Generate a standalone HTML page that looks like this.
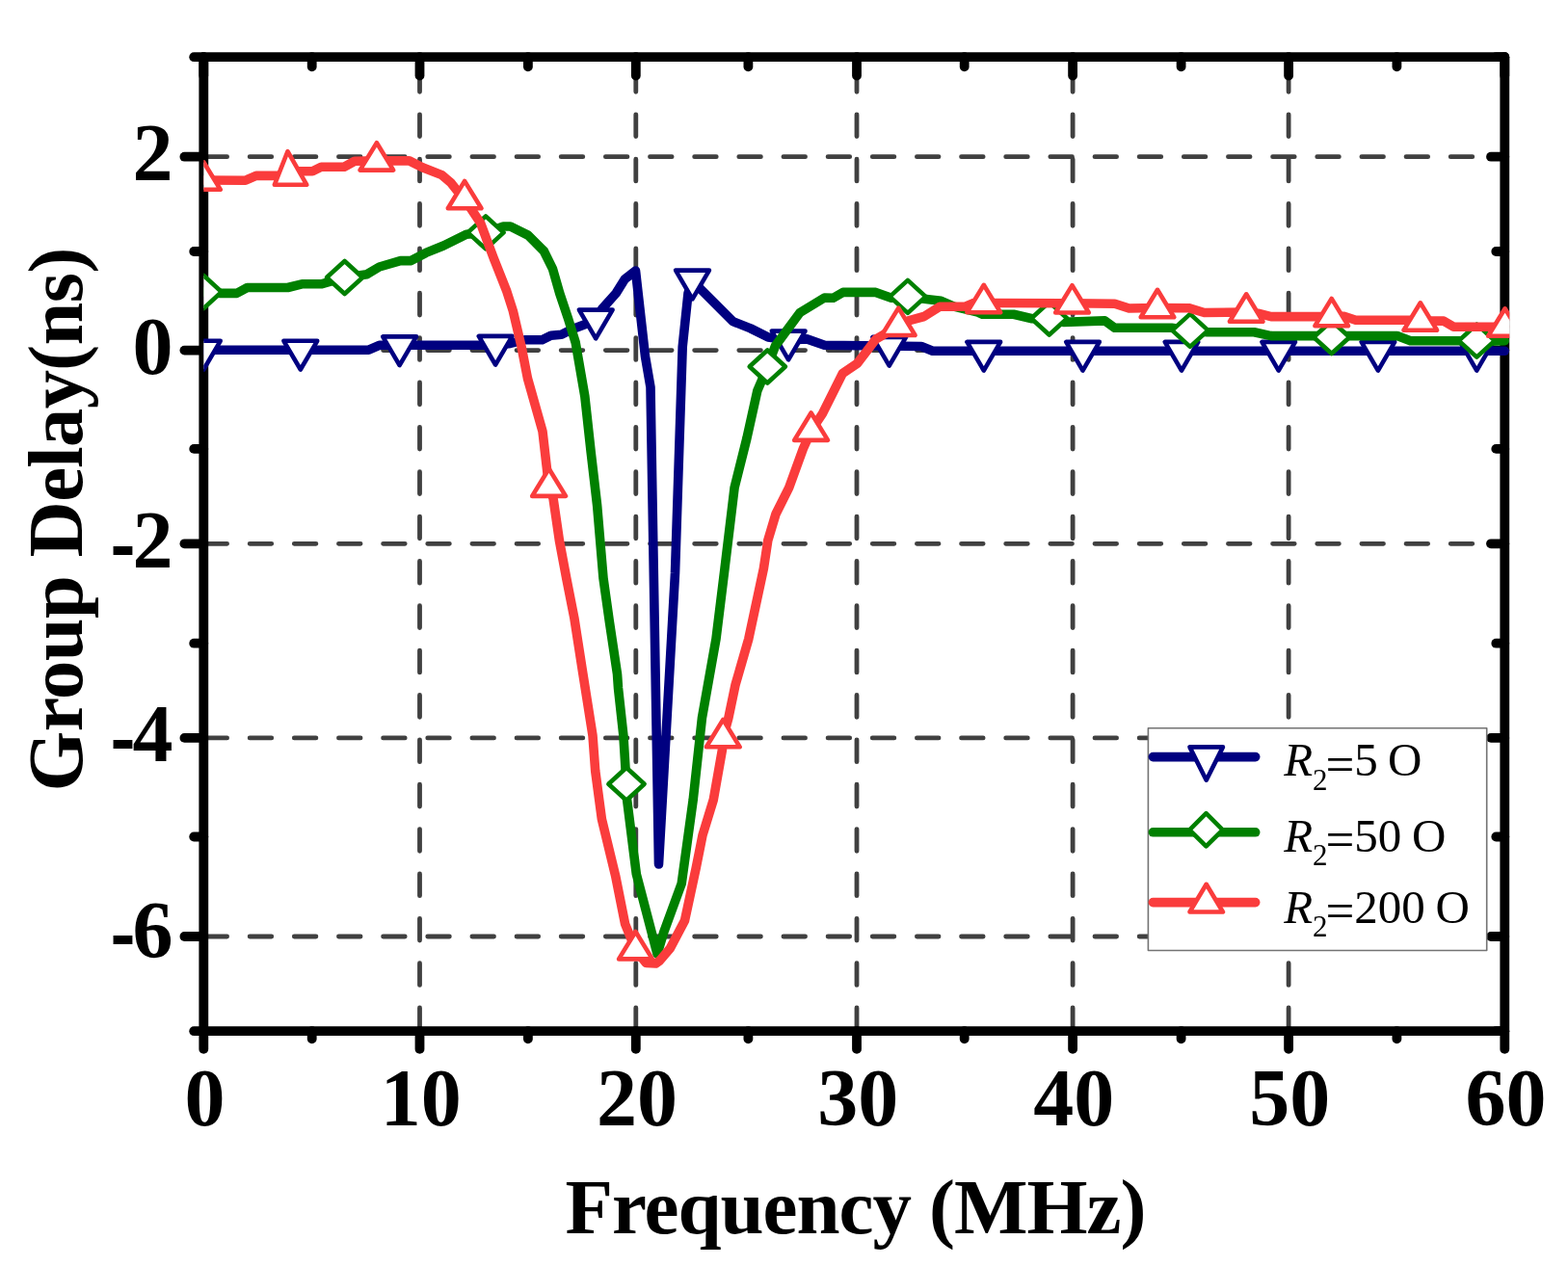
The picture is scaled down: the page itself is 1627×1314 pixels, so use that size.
<!DOCTYPE html>
<html><head><meta charset="utf-8"><title>Group Delay vs Frequency</title>
<style>html,body{margin:0;padding:0;background:#fff;}svg{display:block;}</style>
</head><body>
<svg width="1627" height="1314" viewBox="0 0 1627 1314"><rect width="1627" height="1314" fill="#fff"/><g stroke="#404040" stroke-width="4.8" stroke-linecap="round" stroke-dasharray="22.6 23.55" fill="none">
<line x1="213" y1="162.7" x2="1559.3" y2="162.7"/>
<line x1="213" y1="363.6" x2="1559.3" y2="363.6"/>
<line x1="213" y1="564.3" x2="1559.3" y2="564.3"/>
<line x1="213" y1="765.9" x2="1559.3" y2="765.9"/>
<line x1="213" y1="972" x2="1559.3" y2="972"/>
<line x1="435.5" y1="1068.8" x2="435.5" y2="59.2" stroke-dasharray="22.8 23.56"/>
<line x1="659.8" y1="1068.8" x2="659.8" y2="59.2" stroke-dasharray="22.8 23.56"/>
<line x1="889" y1="1068.8" x2="889" y2="59.2" stroke-dasharray="22.8 23.56"/>
<line x1="1113.1" y1="1068.8" x2="1113.1" y2="59.2" stroke-dasharray="22.8 23.56"/>
<line x1="1337.1" y1="1068.8" x2="1337.1" y2="59.2" stroke-dasharray="22.8 23.56"/>
</g>
<g stroke="#000" stroke-width="9.8" stroke-linecap="round" stroke-linejoin="round" fill="none">
<path d="M211.3,59.2H1561.3V1070.2H211.3Z"/>
<line x1="211.3" y1="59.2" x2="201.2" y2="59.2"/>
<line x1="1561.3" y1="59.2" x2="1552.3" y2="59.2"/>
<line x1="211.3" y1="162.7" x2="191.4" y2="162.7"/>
<line x1="1561.3" y1="162.7" x2="1547" y2="162.7"/>
<line x1="211.3" y1="261" x2="201.2" y2="261"/>
<line x1="1561.3" y1="261" x2="1552.3" y2="261"/>
<line x1="211.3" y1="363.6" x2="191.4" y2="363.6"/>
<line x1="1561.3" y1="363.6" x2="1547" y2="363.6"/>
<line x1="211.3" y1="465.9" x2="201.2" y2="465.9"/>
<line x1="1561.3" y1="465.9" x2="1552.3" y2="465.9"/>
<line x1="211.3" y1="564.3" x2="191.4" y2="564.3"/>
<line x1="1561.3" y1="564.3" x2="1547" y2="564.3"/>
<line x1="211.3" y1="667.7" x2="201.2" y2="667.7"/>
<line x1="1561.3" y1="667.7" x2="1552.3" y2="667.7"/>
<line x1="211.3" y1="765.9" x2="191.4" y2="765.9"/>
<line x1="1561.3" y1="765.9" x2="1547" y2="765.9"/>
<line x1="211.3" y1="868.5" x2="201.2" y2="868.5"/>
<line x1="1561.3" y1="868.5" x2="1552.3" y2="868.5"/>
<line x1="211.3" y1="972" x2="191.4" y2="972"/>
<line x1="1561.3" y1="972" x2="1547" y2="972"/>
<line x1="211.3" y1="1070.2" x2="201.2" y2="1070.2"/>
<line x1="1561.3" y1="1070.2" x2="1552.3" y2="1070.2"/>
<line x1="211.3" y1="1070.2" x2="211.3" y2="1088.9"/>
<line x1="211.3" y1="59.2" x2="211.3" y2="78.6"/>
<line x1="323.7" y1="1070.2" x2="323.7" y2="1078.3"/>
<line x1="323.7" y1="59.2" x2="323.7" y2="69.3"/>
<line x1="435.5" y1="1070.2" x2="435.5" y2="1088.9"/>
<line x1="435.5" y1="59.2" x2="435.5" y2="78.6"/>
<line x1="547.9" y1="1070.2" x2="547.9" y2="1078.3"/>
<line x1="547.9" y1="59.2" x2="547.9" y2="69.3"/>
<line x1="659.8" y1="1070.2" x2="659.8" y2="1088.9"/>
<line x1="659.8" y1="59.2" x2="659.8" y2="78.6"/>
<line x1="776.4" y1="1070.2" x2="776.4" y2="1078.3"/>
<line x1="776.4" y1="59.2" x2="776.4" y2="69.3"/>
<line x1="889" y1="1070.2" x2="889" y2="1088.9"/>
<line x1="889" y1="59.2" x2="889" y2="78.6"/>
<line x1="1000.7" y1="1070.2" x2="1000.7" y2="1078.3"/>
<line x1="1000.7" y1="59.2" x2="1000.7" y2="69.3"/>
<line x1="1113.1" y1="1070.2" x2="1113.1" y2="1088.9"/>
<line x1="1113.1" y1="59.2" x2="1113.1" y2="78.6"/>
<line x1="1225.6" y1="1070.2" x2="1225.6" y2="1078.3"/>
<line x1="1225.6" y1="59.2" x2="1225.6" y2="69.3"/>
<line x1="1337.1" y1="1070.2" x2="1337.1" y2="1088.9"/>
<line x1="1337.1" y1="59.2" x2="1337.1" y2="78.6"/>
<line x1="1449.4" y1="1070.2" x2="1449.4" y2="1078.3"/>
<line x1="1449.4" y1="59.2" x2="1449.4" y2="69.3"/>
<line x1="1561.3" y1="1070.2" x2="1561.3" y2="1088.9"/>
<line x1="1561.3" y1="59.2" x2="1561.3" y2="78.6"/>
</g>
<defs><clipPath id="pc"><rect x="211.3" y="40" width="1355" height="1050"/></clipPath></defs>
<g clip-path="url(#pc)" stroke-linejoin="round" stroke-linecap="round">
<polyline fill="none" stroke="#000080" stroke-width="9.6" points="211.3,363.2 382.6,363.2 393.6,358.3 514.1,358.3 529.6,356.4 544.2,352.8 562.5,352.8 571.6,348.2 582.6,347.3 593.5,341.8 608.1,336.3 618.2,331 624.6,320.8 639.2,304.4 648.3,289.8 659.5,281 669.5,370 675,402 683.5,897 700.5,595 708.2,360 714,304.4 718.5,290 725.8,298.9 760.5,333.6 778.8,340.9 797.1,350 818.1,353 837.3,351.9 855.5,358.3 955.9,359.5 967.7,364.3 1561.3,364.3"/>
<g fill="#fff" stroke="#000080" stroke-width="4.6">
<polygon points="194,353.8 228.7,353.8 211.3,383.5"/>
<polygon points="294.4,353.8 329.2,353.8 311.8,383.5"/>
<polygon points="397.2,349.4 432,349.4 414.6,379.1"/>
<polygon points="496.8,348.9 531.5,348.9 514.1,378.6"/>
<polygon points="600.9,321.6 635.6,321.6 618.2,351.3"/>
<polygon points="701.1,280.6 735.9,280.6 718.5,310.3"/>
<polygon points="800.8,343.6 835.5,343.6 818.1,373.3"/>
<polygon points="905.4,349.9 940.1,349.9 922.7,379.6"/>
<polygon points="1003.4,354.9 1038.1,354.9 1020.8,384.6"/>
<polygon points="1106.2,354.9 1140.8,354.9 1123.5,384.6"/>
<polygon points="1208.7,354.9 1243.3,354.9 1226,384.6"/>
<polygon points="1309.4,354.9 1344,354.9 1326.7,384.6"/>
<polygon points="1412.6,354.9 1447.2,354.9 1429.9,384.6"/>
<polygon points="1515,354.9 1549.6,354.9 1532.3,384.6"/>
</g>
<polyline fill="none" stroke="#008000" stroke-width="9.6" points="211.3,303 229,304.4 245.7,304.4 256.6,298.5 298.6,298.5 313.2,294.8 333.3,294.8 357.6,288 380.8,284.7 393.6,277 415.5,270.6 426.5,270.6 441.9,262.4 460.2,255 483.9,243.2 504,241.4 522.3,235 529.6,235 547.9,244.1 564.3,260.5 573.4,278.8 580.7,304.4 589.9,331.8 597.2,355.5 606.8,411.1 613.2,469.6 619.6,524.4 626,600 632.3,644.8 640.5,699.6 641.5,714.2 646.9,763.5 650,813.8 650.3,827.6 660.3,907.1 682,990 688.8,967.4 707.2,917.2 719.2,830 728.4,745.4 743,663.1 752,590 762.1,506.1 774.9,455 785.8,405.7 791.3,392.9 796.3,380.5 804.4,359.2 830,324.5 855.5,309 864.4,309.3 874.8,303.4 908.7,303.4 924.9,309.3 941.9,307.9 963.3,310.8 976.5,312.3 989.8,318.2 1014.9,324.1 1019.3,326.3 1051.8,326.3 1071,330.7 1088.7,330.5 1103.6,334.4 1146.4,332.9 1156.7,340.3 1215.7,340.3 1234.9,342.9 1252.6,344.7 1301.3,344.7 1318.9,348.6 1368.8,348.6 1381.7,350 1398,348.6 1449.7,348.6 1463.5,353.8 1513.4,353.8 1532.3,353.6 1546,354.2 1561.3,353.8"/>
<g fill="#fff" stroke="#008000" stroke-width="4.6">
<polygon points="211.3,286 229.9,303 211.3,320 192.7,303"/>
<polygon points="357.6,271 376.2,288 357.6,305 339,288"/>
<polygon points="504,224.4 522.6,241.4 504,258.4 485.4,241.4"/>
<polygon points="650,796.8 668.6,813.8 650,830.8 631.4,813.8"/>
<polygon points="796.3,363.5 814.9,380.5 796.3,397.5 777.7,380.5"/>
<polygon points="941.9,290.9 960.5,307.9 941.9,324.9 923.3,307.9"/>
<polygon points="1088.7,313.5 1107.3,330.5 1088.7,347.5 1070.1,330.5"/>
<polygon points="1234.9,325.9 1253.5,342.9 1234.9,359.9 1216.3,342.9"/>
<polygon points="1381.7,333 1400.3,350 1381.7,367 1363.1,350"/>
<polygon points="1532.3,336.6 1550.9,353.6 1532.3,370.6 1513.7,353.6"/>
</g>
<polyline fill="none" stroke="#fa3c3c" stroke-width="9.6" points="211.3,187 254.8,187.2 265.8,182.4 291,182.4 301,180 311,177.8 324.2,177.8 333.3,173.3 357.1,173.3 368,167.2 390.9,166.9 424.7,166.9 438.3,173.8 458.4,181.6 467.5,189.3 474.8,198.4 482.1,206.6 491.2,220.4 498.5,231.3 512.2,267.9 525.9,302.6 532.3,322.6 541.1,360 547.5,392.9 563,447.7 569.6,505.2 574,517 580.4,561 587.7,600 595.8,641.1 604.9,699.6 615,763.5 617.7,800 624.4,850.2 638.6,908.8 648.6,959 659.5,985.7 670.4,999.5 680.4,1000 684.6,997 695.5,984.1 710.5,955.6 722.3,900.4 729,866.9 740.3,830 749.4,778.3 750.3,765.6 755.8,745.4 763.1,710.6 776.8,663.1 792.4,590 796.8,560.9 805,533.5 818.7,506.1 833.3,465.9 841.6,447.2 853.4,429.4 874.4,387.4 889.5,377.2 899.8,363.9 908.7,352.1 932.3,338.3 942.6,332.9 958.8,328.5 975.1,318.2 1001.6,318.2 1010.5,314.5 1020.8,314.5 1034,314.5 1100.7,314.8 1112.5,314.8 1156.7,315.2 1171.5,320 1201,319.5 1233.4,319.7 1249.6,324.5 1293.2,324 1307.2,325.6 1318.9,328.6 1368.8,328.6 1381.7,328.6 1394.6,328.3 1406.7,332.3 1461.8,332.3 1473.8,333 1497.9,333.1 1508.2,339.2 1551.2,339.2 1561.6,339"/>
<g fill="#fff" stroke="#fa3c3c" stroke-width="4.6">
<polygon points="211.3,168.3 228.7,196.7 194,196.7"/>
<polygon points="298.5,157.2 318.3,191.8 284.8,191.8"/>
<polygon points="390.9,148.2 408.2,176.6 373.5,176.6"/>
<polygon points="482.1,187.9 499.5,216.3 464.8,216.3"/>
<polygon points="569.6,486.5 587,514.9 552.2,514.9"/>
<polygon points="659.5,967 676.9,995.4 642.1,995.4"/>
<polygon points="750.3,746.9 767.6,775.3 732.9,775.3"/>
<polygon points="841.6,428.5 859,456.9 824.2,456.9"/>
<polygon points="932.3,319.6 949.6,348 914.9,348"/>
<polygon points="1020.8,295.8 1038.1,324.2 1003.4,324.2"/>
<polygon points="1112.5,296.1 1129.8,324.5 1095.2,324.5"/>
<polygon points="1201,300.8 1218.3,329.2 1183.7,329.2"/>
<polygon points="1293.2,305.3 1310.5,333.7 1275.9,333.7"/>
<polygon points="1381.7,309.9 1399,338.3 1364.4,338.3"/>
<polygon points="1473.8,314.3 1491.1,342.7 1456.5,342.7"/>
<polygon points="1561.6,320.3 1578.9,348.7 1544.2,348.7"/>
</g>
</g>
<rect x="1191.4" y="755.7" width="351.3" height="230.8" fill="#fff" stroke="#737373" stroke-width="1.6" stroke-linejoin="round"/>
<line x1="1196.4" y1="785.6" x2="1302.7" y2="785.6" stroke="#000080" stroke-width="9.6" stroke-linecap="round"/>
<polygon points="1234.5,775.4 1268.9,775.4 1251.7,809.7" fill="#fff" stroke="#000080" stroke-width="4.6" stroke-linejoin="round"/>
<text font-family="'Liberation Serif', serif" font-size="49" fill="#000"><tspan x="1332.2" y="805.3" font-style="italic">R</tspan><tspan x="1362" y="819.5" font-size="31">2</tspan><tspan x="1375.6" y="810.8" font-size="53">=</tspan><tspan x="1405.3" y="805.3">5</tspan><tspan x="1440.1" y="805.3">O</tspan></text>
<line x1="1196.4" y1="863.8" x2="1302.7" y2="863.8" stroke="#008000" stroke-width="9.6" stroke-linecap="round"/>
<polygon points="1251.5,844.2 1268.7,861.3 1251.5,878.4 1234.3,861.3" fill="#fff" stroke="#008000" stroke-width="4.6" stroke-linejoin="round"/>
<text font-family="'Liberation Serif', serif" font-size="49" fill="#000"><tspan x="1332.2" y="883.7" font-style="italic">R</tspan><tspan x="1362" y="897.9" font-size="31">2</tspan><tspan x="1375.6" y="889.2" font-size="53">=</tspan><tspan x="1405.3" y="883.7">50</tspan><tspan x="1465.1" y="883.7">O</tspan></text>
<line x1="1196.4" y1="936.6" x2="1302.7" y2="936.6" stroke="#fa3c3c" stroke-width="9.6" stroke-linecap="round"/>
<polygon points="1251.7,917.8 1268.9,946.5 1234.5,946.5" fill="#fff" stroke="#fa3c3c" stroke-width="4.6" stroke-linejoin="round"/>
<text font-family="'Liberation Serif', serif" font-size="49" fill="#000"><tspan x="1332.2" y="957.5" font-style="italic">R</tspan><tspan x="1362" y="971.7" font-size="31">2</tspan><tspan x="1375.6" y="963" font-size="53">=</tspan><tspan x="1405.3" y="957.5">200</tspan><tspan x="1489.4" y="957.5">O</tspan></text>
<text x="179.5" y="187" font-family="'Liberation Serif', serif" font-weight="bold" font-size="84" text-anchor="end">2</text>
<text x="179.5" y="388" font-family="'Liberation Serif', serif" font-weight="bold" font-size="84" text-anchor="end">0</text>
<text transform="translate(127.5,571.1) scale(0.91,1.26)" x="0" y="19.4" font-family="'Liberation Serif', serif" font-weight="bold" font-size="84" text-anchor="middle">-</text>
<text x="179.5" y="588.9" font-family="'Liberation Serif', serif" font-weight="bold" font-size="84" text-anchor="end">2</text>
<text transform="translate(127.5,772.2) scale(0.91,1.26)" x="0" y="19.4" font-family="'Liberation Serif', serif" font-weight="bold" font-size="84" text-anchor="middle">-</text>
<text x="179.5" y="790" font-family="'Liberation Serif', serif" font-weight="bold" font-size="84" text-anchor="end">4</text>
<text transform="translate(127.5,975.9) scale(0.91,1.26)" x="0" y="19.4" font-family="'Liberation Serif', serif" font-weight="bold" font-size="84" text-anchor="middle">-</text>
<text x="179.5" y="993.7" font-family="'Liberation Serif', serif" font-weight="bold" font-size="84" text-anchor="end">6</text>
<text x="212.5" y="1168" font-family="'Liberation Serif', serif" font-weight="bold" font-size="84" text-anchor="middle">0</text>
<text x="436.7" y="1168" font-family="'Liberation Serif', serif" font-weight="bold" font-size="84" text-anchor="middle">10</text>
<text x="661" y="1168" font-family="'Liberation Serif', serif" font-weight="bold" font-size="84" text-anchor="middle">20</text>
<text x="890.2" y="1168" font-family="'Liberation Serif', serif" font-weight="bold" font-size="84" text-anchor="middle">30</text>
<text x="1114.3" y="1168" font-family="'Liberation Serif', serif" font-weight="bold" font-size="84" text-anchor="middle">40</text>
<text x="1338.3" y="1168" font-family="'Liberation Serif', serif" font-weight="bold" font-size="84" text-anchor="middle">50</text>
<text x="1562.5" y="1168" font-family="'Liberation Serif', serif" font-weight="bold" font-size="84" text-anchor="middle">60</text>
<text x="586.6" y="1280.4" font-family="'Liberation Serif', serif" font-weight="bold" font-size="81" letter-spacing="-1.02">Frequency (MHz)</text>
<text transform="translate(84.8,821.6) rotate(-90)" x="0" y="0" font-family="'Liberation Serif', serif" font-weight="bold" font-size="80.5" letter-spacing="-0.6">Group Delay(ns)</text></svg>
</body></html>
